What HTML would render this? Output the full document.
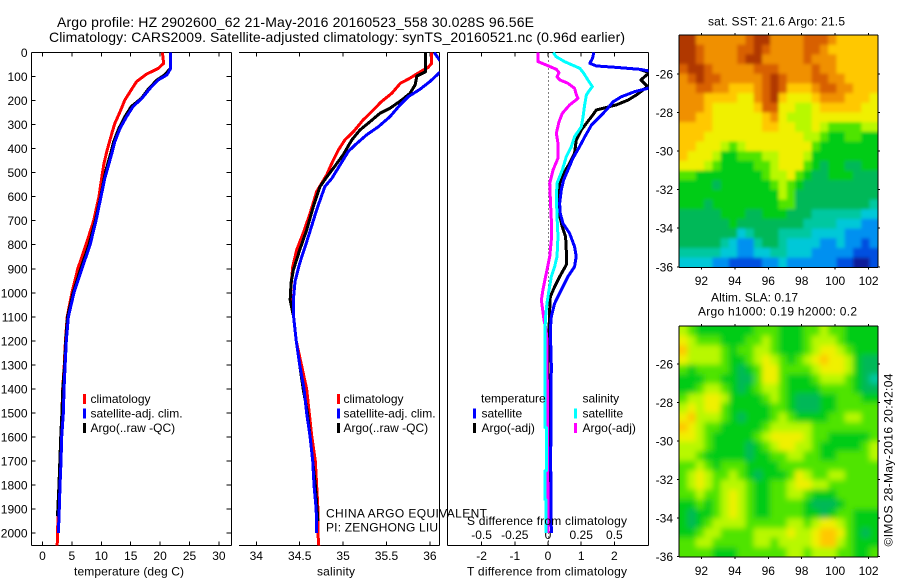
<!DOCTYPE html>
<html lang="en">
<head>
<meta charset="utf-8">
<title>Argo profile</title>
<style>
html,body{margin:0;padding:0;background:#fff;}
svg{display:block;}
text{font-family:"Liberation Sans",Arial,sans-serif;font-size:12px;fill:#000;}
.big{font-size:14px;}
</style>
</head>
<body>
<svg id="figure" xmlns="http://www.w3.org/2000/svg" width="900" height="580" viewBox="0 0 900 580">
<defs>
<clipPath id="clipT"><rect x="32" y="52" width="199.5" height="494"/></clipPath>
<clipPath id="clipS"><rect x="239" y="52" width="200.5" height="494"/></clipPath>
<clipPath id="clipD"><rect x="447.5" y="52" width="201" height="494"/></clipPath>
<clipPath id="clipSst"><rect x="679" y="35" width="199" height="232.5"/></clipPath>
<clipPath id="clipSla"><rect x="679" y="326" width="199" height="231"/></clipPath>
<filter id="blurSst" filterUnits="userSpaceOnUse" x="640" y="0" width="260" height="300"><feGaussianBlur stdDeviation="1.6"/></filter>
<filter id="blurSla" filterUnits="userSpaceOnUse" x="640" y="290" width="260" height="290"><feGaussianBlur stdDeviation="3"/></filter>
</defs>

<text class="big" x="57" y="27" textLength="477">Argo profile: HZ 2902600_62 21-May-2016 20160523_558 30.028S 96.56E</text>
<text class="big" x="49" y="42" textLength="576">Climatology: CARS2009. Satellite-adjusted climatology: synTS_20160521.nc (0.96d earlier)</text>

<g id="panelT"></g>
<g id="panelS"></g>
<g id="panelD"></g>
<g id="panelSst"></g>
<g id="panelSla"></g>

<text x="74" y="575.5" textLength="110">temperature (deg C)</text>
<text x="317" y="575.5" textLength="38">salinity</text>
<text x="467" y="575.5" textLength="160">T difference from climatology</text>
<text x="467" y="525" textLength="160">S difference from climatology</text>

<g>
<rect x="83" y="394" width="3" height="10" fill="#ff0000"/>
<text x="90.5" y="403">climatology</text>
<rect x="83" y="408.5" width="3" height="10" fill="#0000ff"/>
<text x="90.5" y="417.5">satellite-adj. clim.</text>
<rect x="83" y="423" width="3" height="10" fill="#000"/>
<text x="90.5" y="432">Argo(..raw -QC)</text>
</g>
<g>
<rect x="337" y="394" width="3" height="10" fill="#ff0000"/>
<text x="343.5" y="403">climatology</text>
<rect x="337" y="408.5" width="3" height="10" fill="#0000ff"/>
<text x="343.5" y="417.5">satellite-adj. clim.</text>
<rect x="337" y="423" width="3" height="10" fill="#000"/>
<text x="343.5" y="432">Argo(..raw -QC)</text>
</g>
<g>
<text x="481" y="402.5">temperature</text>
<rect x="473" y="408.5" width="3" height="10" fill="#0000ff"/>
<text x="481.5" y="417.5">satellite</text>
<rect x="473" y="423" width="3" height="10" fill="#000"/>
<text x="481.5" y="432">Argo(-adj)</text>
<text x="582.5" y="402.5">salinity</text>
<rect x="574" y="408.5" width="3" height="10" fill="#00ffff"/>
<text x="582.5" y="417.5">satellite</text>
<rect x="574" y="423" width="3" height="10" fill="#ff00ff"/>
<text x="582.5" y="432">Argo(-adj)</text>
</g>

<text x="326" y="517.5" textLength="161">CHINA ARGO EQUIVALENT</text>
<text x="326" y="531.5" textLength="112">PI: ZENGHONG LIU</text>

<text x="708" y="25.5" textLength="137">sat. SST: 21.6 Argo: 21.5</text>
<text x="711" y="301.5" textLength="87">Altim. SLA: 0.17</text>
<text x="698" y="315.5" textLength="159">Argo h1000: 0.19 h2000: 0.2</text>
<text transform="translate(892.5,546.5) rotate(-90)" textLength="173">©IMOS 28-May-2016 20:42:04</text>
</svg>

<script>
// ---- axis ticks ----
const depthTicks = [0,100,200,300,400,500,600,700,800,900,1000,1100,1200,1300,1400,1500,1600,1700,1800,1900,2000];
const tempTicks = [0,5,10,15,20,25,30];
const salTicks = [34,34.5,35,35.5,36];
const tDiffTicks = [-2,-1,0,1,2];
const sDiffTicks = [-0.5,-0.25,0,0.25,0.5];
const lonTicks = [92,94,96,98,100,102];
const latTicks = [-26,-28,-30,-32,-34,-36];

// ---- temperature profiles (deg C) ----
const tempClimDepth = [0,45,66,90,121,163,198,246,295,336,406,461,523,600,700,800,900,1000,1100,1200,1300,1400,1500,1600,1700,1800,1900,2000,2052];
const tempClimValue = [20.4,20.6,19.7,17.7,16,14.9,14,13.2,12.3,11.8,11,10.46,10.06,9.6,8.7,7.4,6,5,4.2,3.9,3.7,3.43,3.3,3.15,3,2.85,2.7,2.55,2.5];
const tempSatDepth = [0,65,84,94,114,149,191,225,267,315,371,419,489,523,600,700,800,900,1000,1100,1200,1300,1400,1500,1600,1700,1800,1900,2000];
const tempSatValue = [21.8,21.8,21.4,21.1,19.7,18.3,16.9,15.4,14.3,13.2,12.3,11.8,11,10.6,9.95,9.1,8.1,6.7,5.35,4.4,4.05,3.85,3.66,3.55,3.26,3.15,2.98,2.85,2.7];
const tempArgoDepth = [0,65,84,94,114,149,191,225,267,315,371,419,489,523,600,700,800,900,1000,1100,1200,1300,1400,1500,1600,1700,1800,1930];
const tempArgoValue = [21.8,21.8,21.1,20.7,19.5,18.1,16.8,15.1,14,13,12.1,11.6,10.8,10.5,9.9,9,7.9,6.5,5.2,4.25,3.95,3.75,3.45,3.3,3.1,2.95,2.8,2.55];

// ---- salinity profiles ----
const salClimDepth = [0,45,62,80,107,128,170,205,246,281,329,364,406,461,510,579,669,752,822,891,950,1000,1100,1200,1300,1400,1500,1600,1700,1800,1900,2000,2052];
const salClimValue = [36.02,36.02,35.98,35.89,35.77,35.66,35.56,35.44,35.33,35.23,35.12,35.02,34.945,34.87,34.81,34.695,34.62,34.54,34.465,34.42,34.405,34.395,34.43,34.46,34.52,34.58,34.61,34.64,34.68,34.695,34.71,34.71,34.72];
const salSatDepth = [0,31,50,70,84,121,153,184,218,267,309,343,385,412,468,524,558,655,766,877,953,1030,1100,1200,1300,1400,1500,1600,1700,1800,1900,2000];
const salSatValue = [36.05,36.11,36.2,36.2,36.11,36,35.886,35.75,35.656,35.54,35.406,35.27,35.137,35.06,34.965,34.87,34.79,34.695,34.6,34.5,34.446,34.427,34.43,34.46,34.5,34.55,34.58,34.62,34.65,34.665,34.69,34.695];
const salArgoDepth = [0,80,98,135,170,198,232,253,288,322,364,426,482,524,558,642,739,822,905,960,1030,1100,1200,1300,1400,1500,1600,1700,1800,1950];
const salArgoValue = [35.95,35.95,35.85,35.83,35.77,35.675,35.54,35.425,35.31,35.195,35.1,35,34.887,34.8,34.734,34.657,34.58,34.5,34.427,34.4,34.39,34.43,34.46,34.5,34.54,34.59,34.62,34.65,34.68,34.71];

// ---- differences from climatology ----
const dTSatDepth = [0,24,45,56,62,70,76,100,149,163,184,205,239,267,302,350,392,440,489,531,572,628,669,711,752,808,849,891,933,988,1044,1099,1155,1300,1700,2000];
const dTSatValue = [1.38,1.34,1.26,1.46,2.06,2.76,3.01,3.6,3.01,2.61,2.21,1.96,1.76,1.56,1.31,1.11,0.95,0.75,0.6,0.47,0.4,0.35,0.37,0.45,0.65,0.8,0.85,0.8,0.6,0.4,0.2,0.1,0.07,0.1,0.08,0.1];
const dTArgoDepth = [0,24,45,56,62,70,84,114,142,177,198,218,239,267,323,364,420,461,503,544,586,669,725,766,822,884,933,975,1016,1072,1155,1300,2000];
const dTArgoValue = [1.38,1.34,1.26,1.46,2.06,2.76,3.05,2.8,3,2.66,2.41,2.06,1.46,1.31,1,0.85,0.8,0.65,0.47,0.35,0.33,0.33,0.43,0.53,0.55,0.55,0.35,0.2,0.07,0.05,0.03,0,0];
const dSArgoDepth = [0,38,52,70,84,101,114,128,149,177,191,218,253,288,336,378,440,489,544,614,697,780,849,919,988,1030,1113,1155,1200,2000];
const dSArgoValue = [-0.075,-0.075,-0.013,0.063,0.083,0.068,0.088,0.15,0.2,0.214,0.226,0.163,0.108,0.083,0.063,0.075,0.075,0.038,0.013,0.018,0.025,0.025,0.013,-0.013,-0.038,-0.05,-0.03,-0.015,-0.007,0];
const dSSatDepth = [0,17,38,66,87,114,142,156,177,218,267,309,350,392,433,489,544,600,683,766,849,891,933,988,1044,1099,1155,1560,1561,1740,1741,1860,1861,2000];
const dSSatValue = [0.04,0.06,0.125,0.24,0.27,0.3,0.334,0.314,0.289,0.276,0.264,0.251,0.2,0.176,0.138,0.108,0.068,0.063,0.068,0.075,0.068,0.05,0.025,0.008,-0.008,-0.018,-0.023,-0.023,-0.012,-0.012,-0.023,-0.023,-0.015,-0.015];

// ---- map colour levels ----
const levelColors = ['#0a1f9a','#0050e0','#0090f0','#00c8d8','#00c8a0','#00b858','#00cc18','#50e400','#b8f800','#f0f000','#ffc800','#f09000','#d86000','#b03800'];

// ---- sea surface temperature map (colour levels, north to south) ----
const sstGrid = [
[13,13,11,11,11,11,11,11,12,13,13,11,11,11,11,12,12,12,11,10,10,10,10,10],
[13,13,12,11,11,11,11,12,12,13,12,11,11,11,11,12,12,11,10,10,10,10,10,10],
[13,13,12,11,11,11,11,12,13,13,11,11,11,11,11,12,11,11,11,10,10,10,10,10],
[12,13,13,12,11,11,11,11,11,12,12,12,11,11,11,11,12,11,11,10,10,10,10,10],
[11,12,13,12,12,11,11,11,11,11,12,13,12,11,11,11,12,12,11,11,10,10,10,10],
[11,11,12,12,11,11,10,10,10,11,12,13,12,10,10,10,11,12,12,11,11,10,10,10],
[11,11,11,10,10,10,10,9,9,11,12,13,10,9,9,9,10,11,11,11,10,10,10,9],
[11,11,11,10,9,9,9,9,9,10,12,12,9,9,8,8,9,10,10,10,10,10,9,9],
[11,11,10,10,9,9,9,9,9,9,10,11,9,8,8,8,9,9,9,9,9,9,9,9],
[10,10,10,10,9,9,9,9,9,9,10,10,9,9,8,8,9,8,7,7,7,7,8,8],
[10,10,10,9,9,9,9,9,9,9,9,9,9,9,9,8,8,7,6,6,7,7,6,6],
[10,10,9,9,9,8,7,8,9,9,9,9,9,9,9,9,7,6,6,6,6,6,6,6],
[10,9,9,9,8,6,6,7,7,7,8,8,9,9,9,8,6,6,6,6,6,6,6,6],
[9,9,9,8,7,6,6,6,6,7,7,8,9,9,9,7,6,5,6,6,5,5,6,6],
[7,7,6,6,6,6,6,6,6,6,7,8,8,9,7,6,5,5,6,6,6,5,5,5],
[6,6,6,6,5,6,6,6,6,6,6,7,8,7,6,5,5,5,5,5,5,5,5,5],
[6,6,6,6,6,6,6,6,6,6,6,6,8,7,5,5,5,5,5,5,5,5,5,5],
[6,6,6,5,6,6,6,6,6,6,6,6,7,7,5,5,5,5,5,5,5,5,5,4],
[5,5,5,5,5,6,6,6,5,5,6,6,6,5,5,5,4,4,4,4,4,4,3,3],
[5,5,5,5,5,5,6,5,5,5,5,5,5,5,5,4,4,4,4,3,3,3,2,2],
[5,5,5,5,5,5,5,3,4,5,5,5,4,4,4,4,3,3,3,3,2,2,2,2],
[5,5,5,5,5,4,3,2,2,4,5,5,4,3,3,3,3,2,2,3,2,2,1,2],
[4,4,4,4,4,3,3,2,2,3,3,4,4,3,3,3,2,2,2,2,2,1,1,1],
[3,3,3,3,2,2,1,1,1,1,2,2,3,2,2,2,2,2,2,1,1,0,0,1]
];

// ---- sea level anomaly map (colour levels, north to south) ----
const slaGrid = [
[8,7,6,6,6,6,6,6,6,7,7,7,6,6,6,7,7,8,7,7,6,6,6,6],
[9,8,7,7,7,6,6,6,7,7,8,7,6,6,6,7,8,8,8,7,6,6,6,6],
[10,8,8,8,8,7,6,7,7,8,8,7,6,6,6,7,8,9,9,8,7,6,6,6],
[9,8,8,8,8,7,6,6,7,8,9,8,7,6,7,8,9,10,9,9,8,6,5,5],
[7,6,7,7,7,7,6,5,6,7,9,9,7,7,7,7,8,9,9,9,8,6,5,5],
[6,6,6,7,7,6,6,5,5,7,9,9,7,6,6,6,7,8,8,8,7,6,5,4],
[6,6,7,8,8,7,6,5,6,7,8,8,7,6,6,6,6,7,7,7,7,6,5,5],
[7,8,8,9,9,8,6,6,6,6,7,8,7,6,5,5,5,6,6,7,7,7,6,6],
[8,9,8,9,9,7,6,6,6,6,6,7,7,6,5,5,5,6,6,7,7,7,7,7],
[9,10,8,8,8,7,6,5,6,6,6,7,8,7,6,6,6,6,7,7,8,8,7,7],
[10,9,8,7,7,6,6,6,6,6,7,8,8,8,8,8,7,7,7,7,7,7,7,7],
[9,9,8,7,6,6,6,6,6,7,8,9,9,9,9,8,7,7,6,6,6,6,6,7],
[8,8,8,7,6,6,6,6,5,6,7,8,9,9,8,8,7,6,6,6,6,6,7,8],
[8,8,7,6,6,6,6,6,5,6,6,7,7,8,8,7,7,6,6,7,7,7,7,8],
[7,7,8,7,6,7,7,7,6,6,6,6,7,7,7,7,7,7,7,7,7,7,7,7],
[7,8,9,8,7,7,8,7,6,5,6,6,6,7,9,8,7,7,8,8,7,7,7,7],
[7,8,9,8,7,8,8,8,7,6,6,7,7,8,9,9,8,8,7,7,7,7,7,7],
[7,7,8,7,7,8,9,8,7,6,6,7,7,8,8,7,6,6,6,7,7,7,7,7],
[6,6,7,6,7,8,9,8,7,6,6,7,7,7,7,6,5,5,5,6,7,7,7,7],
[6,5,6,6,7,8,9,8,7,6,6,7,7,7,7,6,6,5,6,7,7,6,6,6],
[6,5,6,7,8,8,8,8,7,7,7,7,7,8,8,7,8,9,9,8,7,6,6,6],
[6,6,7,8,8,7,7,7,7,8,8,8,8,9,8,8,9,10,10,9,7,6,5,6],
[7,7,8,8,7,7,7,7,7,8,8,7,8,8,8,8,9,10,10,8,7,6,6,6],
[7,7,7,7,6,6,6,7,7,7,7,7,7,8,8,7,8,8,8,7,7,6,6,7]
];

// ---- axis functions ----
const NS = 'http://www.w3.org/2000/svg';
const yDepth = d => 52.5 + 0.2403 * d;
const xTemp = t => 42.5 + 5.88 * t;
const xSal = s => 256.3 + 86.8 * (s - 34);
const xTDiff = t => 548 + 33.2 * t;
const xSDiff = s => 548 + 132.8 * s;
const xLon = lon => 701.4 + 16.72 * (lon - 92);
const yLatSst = lat => 74 + 19.28 * (-26 - lat);
const yLatSla = lat => 364 + 19.27 * (-26 - lat);
const PANEL_TOP = 52.5, PANEL_BOTTOM = 545.5;

function mk(tag, attrs, parent) {
  const el = document.createElementNS(NS, tag);
  for (const k in attrs) el.setAttribute(k, attrs[k]);
  parent.appendChild(el);
  return el;
}
function seg(parent, x1, y1, x2, y2, name) {
  const el = mk('line', {x1, y1, x2, y2, stroke: '#000', 'stroke-width': 1, 'shape-rendering': 'crispEdges'}, parent);
  
  
  return el;
}
function label(parent, x, y, txt, anchor, name) {
  const el = mk('text', {x, y, 'text-anchor': anchor}, parent);
  el.textContent = String(txt);
  
  
  return el;
}
function profile(parent, depths, values, xFn, color, width, clip, name) {
  const d = depths.map((z, i) => (i ? 'L' : 'M') + xFn(values[i]).toFixed(2) + ' ' + yDepth(z).toFixed(2)).join('');
  const el = mk('path', {d, fill: 'none', stroke: color, 'stroke-width': width, 'clip-path': 'url(#' + clip + ')', 'stroke-linejoin': 'round', 'shape-rendering': 'crispEdges'}, parent);
  
  
  return el;
}
function heatmap(parent, grid, left, top, width, height, filter, name) {
  const g = mk('g', {filter: 'url(#' + filter + ')'}, parent);
  
  
  const rows = grid.length, cols = grid[0].length;
  const cw = width / cols, ch = height / rows, pad = 14;
  grid.forEach((row, r) => row.forEach((v, c) => {
    const x0 = left + c * cw - (c === 0 ? pad : 0);
    const y0 = top + r * ch - (r === 0 ? pad : 0);
    const x1 = left + (c + 1) * cw + (c === cols - 1 ? pad : 0) + 0.5;
    const y1 = top + (r + 1) * ch + (r === rows - 1 ? pad : 0) + 0.5;
    const cell = mk('rect', {x: x0, y: y0, width: x1 - x0, height: y1 - y0, fill: levelColors[v]}, g);
    
    
  }));
}
function mapFrame(parent, left, right, top, bottom, yFn, labelY) {
  seg(parent, left, top, right, top, 'map-top-border');
  seg(parent, left, bottom, right, bottom, 'map-bottom-border');
  seg(parent, left, top, left, bottom, 'map-left-border');
  seg(parent, right, top, right, bottom, 'map-right-border');
  lonTicks.forEach(v => {
    seg(parent, xLon(v), top - 2, xLon(v), top, 'longitude-tick-top');
    seg(parent, xLon(v), bottom, xLon(v), bottom + 2, 'longitude-tick-bottom');
    label(parent, xLon(v), labelY, v, 'middle', 'longitude-tick-label');
  });
  latTicks.forEach(v => {
    seg(parent, left - 2, yFn(v), left, yFn(v), 'latitude-tick-left');
    seg(parent, right, yFn(v), right + 2, yFn(v), 'latitude-tick-right');
    label(parent, 673, yFn(v) + 4.5, v, 'end', 'latitude-tick-label');
  });
}

// ---- temperature panel ----
const pT = document.getElementById('panelT');
seg(pT, 31.5, PANEL_TOP, 231.5, PANEL_TOP, 'top-border');
seg(pT, 31.5, PANEL_BOTTOM, 231.5, PANEL_BOTTOM, 'bottom-border');
seg(pT, 31.5, PANEL_TOP, 31.5, PANEL_BOTTOM, 'left-border');
seg(pT, 231.5, PANEL_TOP, 231.5, PANEL_BOTTOM, 'right-border');
depthTicks.forEach(v => {
  seg(pT, 31.5, yDepth(v), 35.5, yDepth(v), 'depth-tick-left');
  seg(pT, 226.5, yDepth(v), 231.5, yDepth(v), 'depth-tick-right');
  label(pT, 27.5, yDepth(v) + 4.5, v, 'end', 'depth-tick-label');
});
tempTicks.forEach(v => {
  seg(pT, xTemp(v), PANEL_TOP, xTemp(v), PANEL_TOP + 4, 'temperature-tick-top');
  seg(pT, xTemp(v), PANEL_BOTTOM - 4, xTemp(v), PANEL_BOTTOM, 'temperature-tick-bottom');
  label(pT, xTemp(v), 560, v, 'middle', 'temperature-tick-label');
});
profile(pT, tempClimDepth, tempClimValue, xTemp, '#ff0000', 3, 'clipT', 'temperature-climatology-line');
profile(pT, tempArgoDepth, tempArgoValue, xTemp, '#000000', 3, 'clipT', 'temperature-argo-line');
profile(pT, tempSatDepth, tempSatValue, xTemp, '#0000ff', 3, 'clipT', 'temperature-satellite-line');

// ---- salinity panel ----
const pS = document.getElementById('panelS');
seg(pS, 239, PANEL_TOP, 439.5, PANEL_TOP, 'top-border');
seg(pS, 239, PANEL_BOTTOM, 439.5, PANEL_BOTTOM, 'bottom-border');
seg(pS, 439.5, PANEL_TOP, 439.5, PANEL_BOTTOM, 'right-border');
salTicks.forEach(v => {
  seg(pS, xSal(v), PANEL_TOP, xSal(v), PANEL_TOP + 4, 'salinity-tick-top');
  seg(pS, xSal(v), PANEL_BOTTOM - 4, xSal(v), PANEL_BOTTOM, 'salinity-tick-bottom');
  label(pS, xSal(v), 560, v, 'middle', 'salinity-tick-label');
});
profile(pS, salClimDepth, salClimValue, xSal, '#ff0000', 3, 'clipS', 'salinity-climatology-line');
profile(pS, salArgoDepth, salArgoValue, xSal, '#000000', 3, 'clipS', 'salinity-argo-line');
profile(pS, salSatDepth, salSatValue, xSal, '#0000ff', 3, 'clipS', 'salinity-satellite-line');

// ---- difference panel ----
const pD = document.getElementById('panelD');
seg(pD, 447.5, PANEL_TOP, 648.5, PANEL_TOP, 'top-border');
seg(pD, 447.5, PANEL_BOTTOM, 648.5, PANEL_BOTTOM, 'bottom-border');
seg(pD, 447.5, PANEL_TOP, 447.5, PANEL_BOTTOM, 'left-border');
seg(pD, 648.5, PANEL_TOP, 648.5, PANEL_BOTTOM, 'right-border');
const zeroLine = mk('line', {x1: 548.5, y1: PANEL_TOP, x2: 548.5, y2: PANEL_BOTTOM, stroke: '#000', 'stroke-width': 1, 'stroke-dasharray': '1 3', 'shape-rendering': 'crispEdges'}, pD);


tDiffTicks.forEach(v => {
  seg(pD, xTDiff(v), PANEL_TOP, xTDiff(v), PANEL_TOP + 4, 't-difference-tick-top');
  seg(pD, xTDiff(v), PANEL_BOTTOM - 4, xTDiff(v), PANEL_BOTTOM, 't-difference-tick-bottom');
  label(pD, xTDiff(v), 560, v, 'middle', 't-difference-tick-label');
});
sDiffTicks.forEach(v => {
  label(pD, xSDiff(v), 539, v, 'middle', 's-difference-tick-label');
});
profile(pD, dTArgoDepth, dTArgoValue, xTDiff, '#000000', 3, 'clipD', 't-difference-argo-line');
profile(pD, dTSatDepth, dTSatValue, xTDiff, '#0000ff', 3, 'clipD', 't-difference-satellite-line');
profile(pD, dSArgoDepth, dSArgoValue, xSDiff, '#ff00ff', 3, 'clipD', 's-difference-argo-line');
profile(pD, dSSatDepth, dSSatValue, xSDiff, '#00ffff', 3, 'clipD', 's-difference-satellite-line');

// ---- maps ----
const pSst = document.getElementById('panelSst');
const sstClip = mk('g', {'clip-path': 'url(#clipSst)'}, pSst);


heatmap(sstClip, sstGrid, 679.3, 35, 198.5, 232.3, 'blurSst', 'sst-heatmap');
mapFrame(pSst, 679, 878, 35, 267.5, yLatSst, 285);

const pSla = document.getElementById('panelSla');
const slaClip = mk('g', {'clip-path': 'url(#clipSla)'}, pSla);


heatmap(slaClip, slaGrid, 679.3, 326, 198.5, 231, 'blurSla', 'sla-heatmap');
mapFrame(pSla, 679, 878, 326, 557, yLatSla, 575);
</script>
</body>
</html>
